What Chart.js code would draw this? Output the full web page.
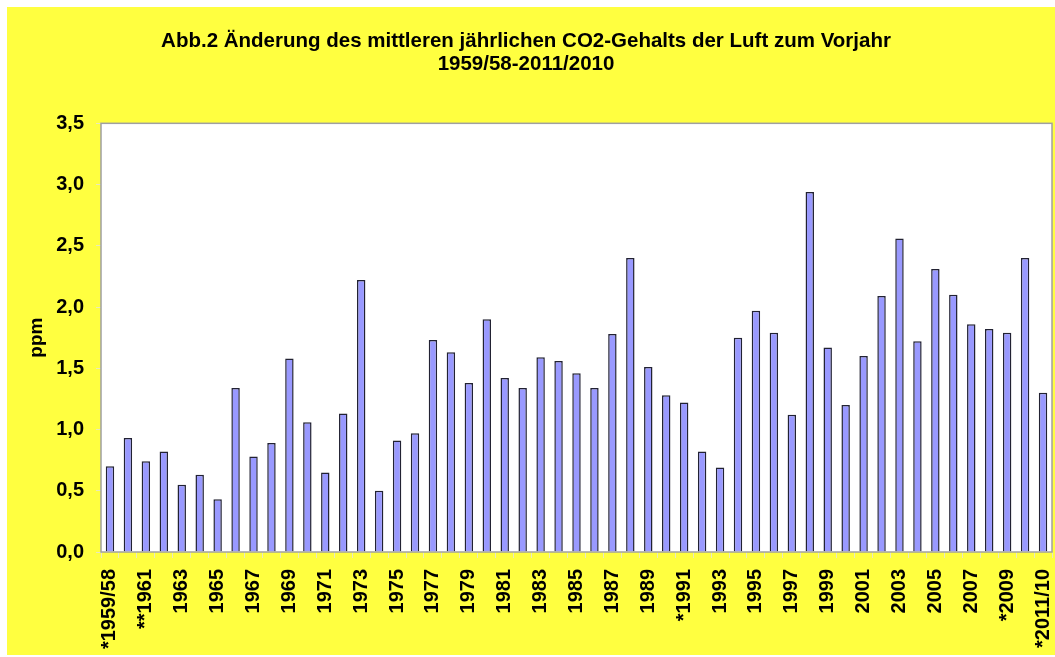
<!DOCTYPE html>
<html>
<head>
<meta charset="utf-8">
<title>CO2 Änderung zum Vorjahr</title>
<script src="https://cdn.jsdelivr.net/npm/chart.js@4"></script>
<style>
  body { margin: 0; background: #ffffff; }
  canvas { display: block; }
</style>
</head>
<body>
<canvas id="co2Chart" width="1055" height="657"></canvas>
<script>
// Categories (x axis), all 53 years; only every other one gets a visible label
let categories = [
  "*1959/58", "1960", "**1961", "1962", "1963", "1964", "1965", "1966", "1967", "1968",
  "1969", "1970", "1971", "1972", "1973", "1974", "1975", "1976", "1977", "1978",
  "1979", "1980", "1981", "1982", "1983", "1984", "1985", "1986", "1987", "1988",
  "1989", "1990", "*1991", "1992", "1993", "1994", "1995", "1996", "1997", "1998",
  "1999", "2000", "2001", "2002", "2003", "2004", "2005", "2006", "2007", "2008",
  "*2009", "2010", "*2011/10"
];

// Change of the mean yearly CO2 content against the year before (ppm)
let changePpm = [
  0.70, 0.93, 0.74, 0.82, 0.55, 0.63, 0.43, 1.34, 0.78, 0.89,
  1.58, 1.06, 0.65, 1.13, 2.22, 0.50, 0.91, 0.97, 1.73, 1.63,
  1.38, 1.90, 1.42, 1.34, 1.59, 1.56, 1.46, 1.34, 1.78, 2.40,
  1.51, 1.28, 1.22, 0.82, 0.69, 1.75, 1.97, 1.79, 1.12, 2.94,
  1.67, 1.20, 1.60, 2.09, 2.56, 1.72, 2.31, 2.10, 1.86, 1.82,
  1.79, 2.40, 1.30
];

// Y axis tick labels (German decimal comma)
let yTickLabels = ["0,0", "0,5", "1,0", "1,5", "2,0", "2,5", "3,0", "3,5"];

let fontFamily = "'Liberation Sans', Arial, Helvetica, sans-serif";

// Background: white margin, yellow panel, white plot area with gray frame
const backgroundPlugin = {
  id: 'panelBackground',
  beforeDraw(chart) {
    const ctx = chart.ctx;
    const area = chart.chartArea;
    ctx.save();
    ctx.fillStyle = '#ffffff';
    ctx.fillRect(0, 0, chart.width, chart.height);
    ctx.fillStyle = '#ffff40';
    ctx.fillRect(7, 7, chart.width - 7, chart.height - 9);
    ctx.fillStyle = '#ffffff';
    ctx.fillRect(area.left, area.top, area.right - area.left, area.bottom - area.top);
    ctx.restore();
  },
  afterDatasetsDraw(chart) {
    const ctx = chart.ctx;
    const area = chart.chartArea;
    ctx.save();
    ctx.strokeStyle = '#a0a0a0';
    ctx.lineWidth = 1.5;
    ctx.strokeRect(area.left, area.top, area.right - area.left, area.bottom - area.top);
    ctx.restore();
  }
};

let ctx = document.getElementById('co2Chart').getContext('2d');

new Chart(ctx, {
  type: 'bar',
  data: {
    labels: categories,
    datasets: [{
      data: changePpm,
      backgroundColor: '#9999ff',
      borderColor: '#222233',
      borderWidth: 1.5,
      categoryPercentage: 1.0,
      barPercentage: 0.47
    }]
  },
  options: {
    responsive: false,
    animation: false,
    layout: {
      padding: { left: 0, right: 3, top: 0, bottom: 0 }
    },
    plugins: {
      legend: { display: false },
      tooltip: { enabled: false },
      title: {
        display: true,
        text: [
          'Abb.2 Änderung des mittleren jährlichen CO2-Gehalts der Luft zum Vorjahr',
          '1959/58-2011/2010'
        ],
        color: '#000000',
        font: { family: fontFamily, size: 20.5, weight: 'bold', lineHeight: 1.13 },
        padding: { top: 30, bottom: 47 }
      }
    },
    scales: {
      x: {
        grid: {
          display: true,
          drawOnChartArea: false,
          drawTicks: true,
          tickLength: 6,
          color: '#e8e8c0'
        },
        border: { display: false },
        ticks: {
          autoSkip: false,
          maxRotation: 90,
          minRotation: 90,
          padding: 11,
          color: '#000000',
          font: { family: fontFamily, size: 20, weight: 'bold' },
          callback: function (value, index) {
            return index % 2 === 0 ? categories[index] : '';
          }
        },
        afterFit: function (scale) {
          // keep the plot area running to the right edge like the original
          scale.height = 105;
          scale.paddingLeft = 0;
          scale.paddingRight = 0;
        }
      },
      y: {
        min: 0,
        max: 3.5,
        grid: {
          display: true,
          drawOnChartArea: false,
          drawTicks: true,
          tickLength: 5,
          color: '#e8e8c0'
        },
        border: { display: false },
        ticks: {
          stepSize: 0.5,
          padding: 12,
          color: '#000000',
          font: { family: fontFamily, size: 20, weight: 'bold' },
          callback: function (value, index) {
            return yTickLabels[index];
          }
        },
        title: {
          display: true,
          text: 'ppm',
          color: '#000000',
          font: { family: fontFamily, size: 19, weight: 'bold' },
          padding: { top: 25, bottom: 0 }
        },
        afterFit: function (scale) {
          scale.width = 101;
        }
      }
    }
  },
  plugins: [backgroundPlugin]
});
</script>
</body>
</html>
